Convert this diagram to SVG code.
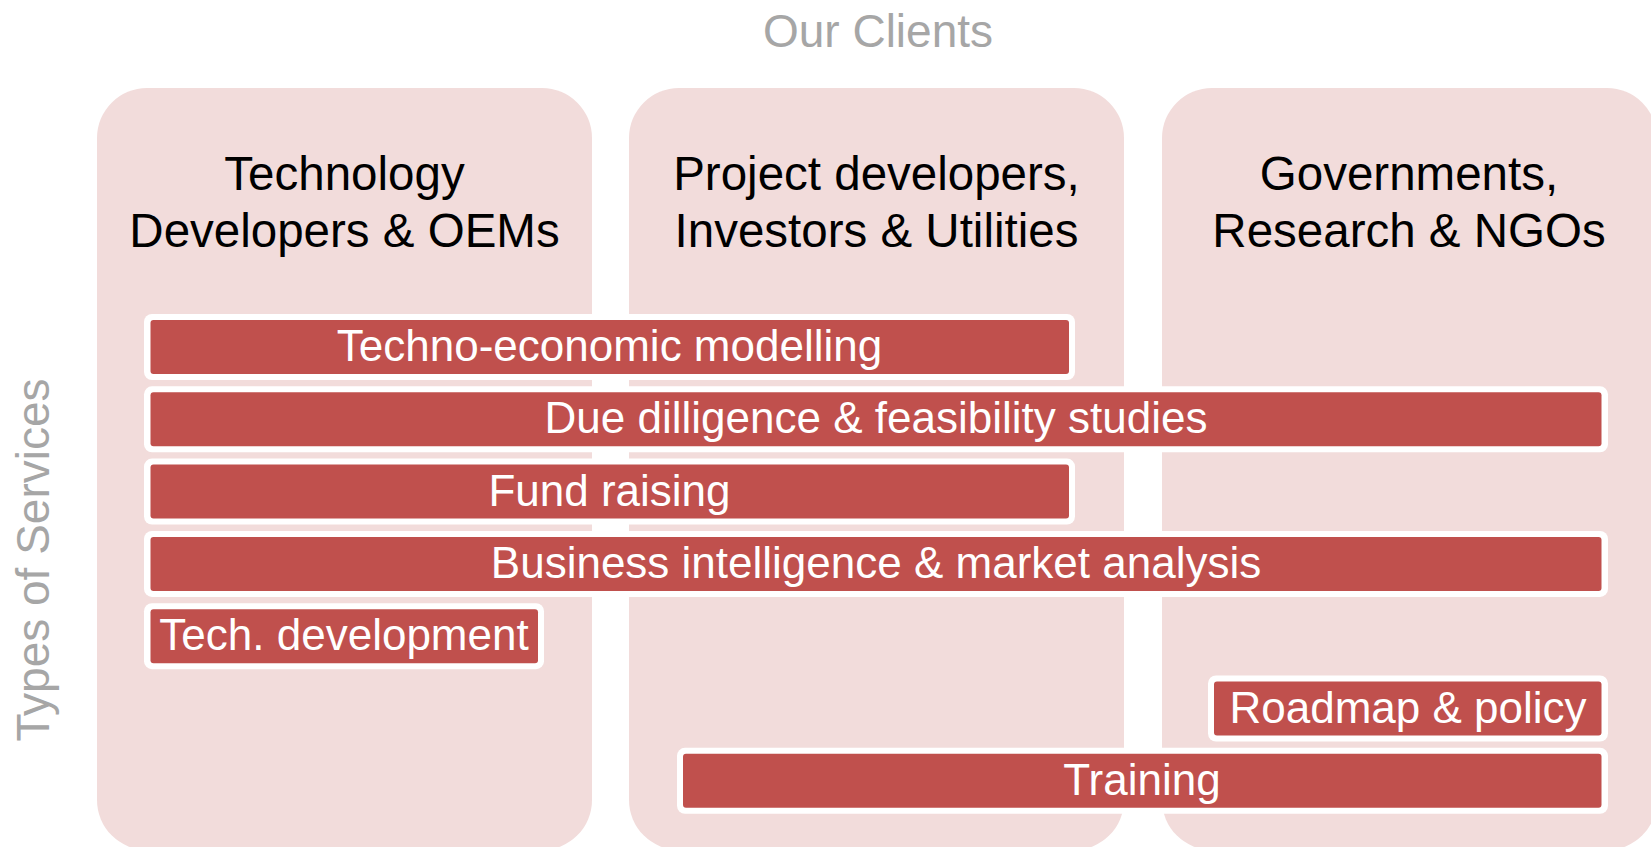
<svg xmlns="http://www.w3.org/2000/svg" width="1651" height="847" viewBox="0 0 1651 847">
<style>
.col{fill:#f2dcdb}
.hdr{font-family:"Liberation Sans",Arial,sans-serif;font-size:47.5px;fill:#000;text-anchor:middle}
.ttl{font-family:"Liberation Sans",Arial,sans-serif;font-size:46px;fill:#a6a6a6;text-anchor:middle}
.rim{fill:#ffffff}
.bar{fill:#c0504d}
.lbl{font-family:"Liberation Sans",Arial,sans-serif;font-size:44px;fill:#ffffff;text-anchor:middle}
</style>
<rect width="1651" height="847" fill="#ffffff"/>
<text class="ttl" x="878" y="47">Our Clients</text>
<text class="ttl" transform="translate(49,560) rotate(-90)">Types of Services</text>
<g id="col-tech">
<rect class="col" x="97" y="88" width="495" height="762" rx="50"/>
<text class="hdr" x="344.5" y="190">Technology</text>
<text class="hdr" x="344.5" y="247">Developers &amp; OEMs</text>
</g>
<g id="col-proj">
<rect class="col" x="629" y="88" width="495" height="762" rx="50"/>
<text class="hdr" x="876.5" y="190">Project developers,</text>
<text class="hdr" x="876.5" y="247">Investors &amp; Utilities</text>
</g>
<g id="col-gov">
<rect class="col" x="1162" y="88" width="495" height="762" rx="50"/>
<text class="hdr" x="1409" y="190">Governments,</text>
<text class="hdr" x="1409" y="247">Research &amp; NGOs</text>
</g>
<g id="svc-techno">
<rect class="rim" x="144" y="314" width="931" height="66" rx="8"/>
<rect class="bar" x="150.5" y="320" width="918.5" height="54" rx="3"/>
<text class="lbl" x="609.5" y="361">Techno-economic modelling</text>
</g>
<g id="svc-due">
<rect class="rim" x="144" y="386.3" width="1464" height="66" rx="8"/>
<rect class="bar" x="150.5" y="392.3" width="1451" height="54" rx="3"/>
<text class="lbl" x="876" y="433.3">Due dilligence &amp; feasibility studies</text>
</g>
<g id="svc-fund">
<rect class="rim" x="144" y="458.6" width="931" height="66" rx="8"/>
<rect class="bar" x="150.5" y="464.6" width="918.5" height="54" rx="3"/>
<text class="lbl" x="609.5" y="505.6">Fund raising</text>
</g>
<g id="svc-bi">
<rect class="rim" x="144" y="530.9" width="1464" height="66" rx="8"/>
<rect class="bar" x="150.5" y="536.9" width="1451" height="54" rx="3"/>
<text class="lbl" x="876" y="577.9">Business intelligence &amp; market analysis</text>
</g>
<g id="svc-techdev">
<rect class="rim" x="144" y="603.2" width="400" height="66" rx="8"/>
<rect class="bar" x="150.5" y="609.2" width="387.5" height="54" rx="3"/>
<text class="lbl" x="344" y="650.2">Tech. development</text>
</g>
<g id="svc-roadmap">
<rect class="rim" x="1208" y="675.5" width="400" height="66" rx="8"/>
<rect class="bar" x="1214" y="681.5" width="387.5" height="54" rx="3"/>
<text class="lbl" x="1408" y="722.5">Roadmap &amp; policy</text>
</g>
<g id="svc-training">
<rect class="rim" x="677" y="747.8" width="931" height="66" rx="8"/>
<rect class="bar" x="683" y="753.8" width="918.5" height="54" rx="3"/>
<text class="lbl" x="1142" y="794.8">Training</text>
</g>
<g id="connectors"></g>
</svg>
